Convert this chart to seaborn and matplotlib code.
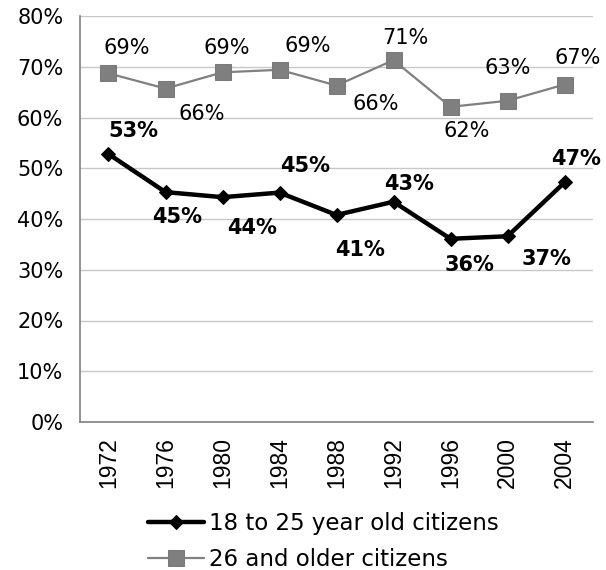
import matplotlib
matplotlib.use("Agg")
import matplotlib.pyplot as plt
import numpy as np
import pandas as pd
import seaborn as sns

# turnout by presidential election year
years = ["1972", "1976", "1980", "1984", "1988", "1992", "1996", "2000", "2004"]
young = [52.8, 45.3, 44.3, 45.2, 40.8, 43.4, 36.1, 36.6, 47.2]
older = [68.7, 65.7, 68.9, 69.4, 66.3, 71.3, 62.1, 63.3, 66.5]
young_labels = ["53%", "45%", "44%", "45%", "41%", "43%", "36%", "37%", "47%"]
older_labels = ["69%", "66%", "69%", "69%", "66%", "71%", "62%", "63%", "67%"]

# label offsets in pixels (dx, dy) - hand placed like the original
young_off = [(25, 23), (12, -25), (30, -31), (26, 27), (24, -35),
             (16, 18), (19, -26), (39, -23), (12, 23)]
older_off = [(18, 25), (36, -25), (4, 24), (28, 24), (39, -18),
             (12, 22), (16, -24), (0, 33), (13, 27)]

sns.set_style("white")
plt.rcParams["font.family"] = ["DejaVu Sans"]
plt.rcParams["text.color"] = "black"
plt.rcParams["xtick.color"] = "black"
plt.rcParams["ytick.color"] = "black"

df = pd.DataFrame({"pos": np.arange(len(years)), "young": young, "older": older})

fig = plt.figure(figsize=(6.06, 5.70), dpi=100)
ax = fig.add_axes([80 / 606, 1 - 422 / 570, (593 - 80) / 606, (422 - 16) / 570])

sns.lineplot(data=df, x="pos", y="young", ax=ax, color="black", linewidth=3.2,
             marker="D", markersize=7.5, markeredgecolor="black",
             label="18 to 25 year old citizens")
sns.lineplot(data=df, x="pos", y="older", ax=ax, color="#808080", linewidth=1.6,
             marker="s", markersize=11.5, markeredgecolor="#7a7a7a",
             markerfacecolor="#7f7f7f", label="26 and older citizens")

for i in range(len(years)):
    ax.annotate(older_labels[i], (df["pos"][i], older[i]), xytext=older_off[i],
                textcoords="offset pixels", ha="center", va="center",
                fontsize=15, color="black")
    ax.annotate(young_labels[i], (df["pos"][i], young[i]), xytext=young_off[i],
                textcoords="offset pixels", ha="center", va="center",
                fontsize=15, fontweight="bold", color="black")

ax.set_xlim(-0.5, len(years) - 0.5)
ax.set_ylim(0, 80)
ax.set_yticks(np.arange(0, 81, 10))
ax.set_yticklabels([f"{v}%" for v in range(0, 81, 10)], fontsize=15)

# tick marks between categories, labels at the centres
ax.set_xticks(np.arange(-0.5, len(years), 1))
ax.set_xticklabels([])
ax.set_xticks(np.arange(len(years)), minor=True)
ax.set_xticklabels(years, minor=True, rotation=90, fontsize=16.5,
                   family="Liberation Sans")
ax.tick_params(axis="x", which="minor", length=0, pad=11)
ax.tick_params(axis="both", which="major", length=6, width=1.2, color="#808080",
               direction="out")
ax.tick_params(axis="y", pad=6)

ax.grid(axis="y", color="#c8c8c8", linewidth=1)
ax.set_axisbelow(True)
ax.set_xlabel("")
ax.set_ylabel("")
for side in ["top", "right"]:
    ax.spines[side].set_visible(False)
for side in ["left", "bottom"]:
    ax.spines[side].set_color("#808080")
    ax.spines[side].set_linewidth(1.2)

ax.legend_.remove()
handles, labels = ax.get_legend_handles_labels()
fig.legend(handles, labels, loc="upper left", bbox_to_anchor=(148 / 606, 1 - 512 / 570),
           frameon=False, fontsize=16.5, handlelength=2.45, handletextpad=0.2,
           labelspacing=0.55, borderpad=0, borderaxespad=0)

fig.savefig("out.png", dpi=100)
